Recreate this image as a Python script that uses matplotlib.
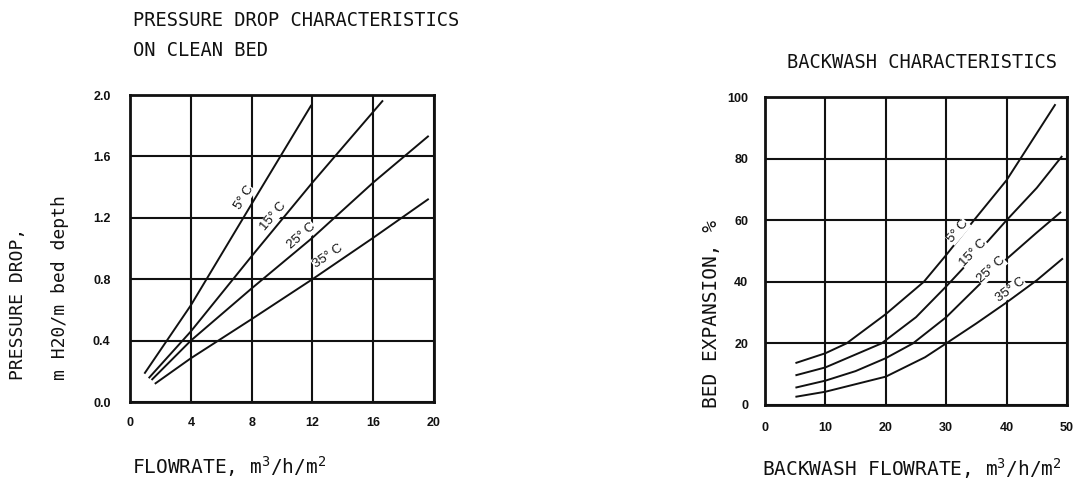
import matplotlib
matplotlib.use("Agg")
import matplotlib.pyplot as plt

# pressure drop on clean bed (flowrate m3/h/m2 -> m H2O / m bed depth)
pd_x_5 = [0.98, 4, 8, 11.9]
pd_y_5 = [0.19, 0.63, 1.29, 1.93]
pd_x_15 = [1.27, 4, 8, 12, 16.6]
pd_y_15 = [0.16, 0.46, 0.95, 1.43, 1.96]
pd_x_25 = [1.46, 4, 8, 12, 16, 19.6]
pd_y_25 = [0.148, 0.40, 0.74, 1.07, 1.43, 1.73]
pd_x_35 = [1.68, 4, 8, 12, 16, 19.6]
pd_y_35 = [0.122, 0.285, 0.54, 0.80, 1.07, 1.32]

# backwash: flowrate -> bed expansion %
bw_x_5 = [5.2, 10, 13.5, 20, 26.3, 30, 34.6, 40, 42.3, 48]
bw_y_5 = [13.7, 16.8, 20, 29.5, 40, 48.7, 60, 73, 80, 97.4]
bw_x_15 = [5.2, 10, 19.3, 25, 30, 35, 40, 45, 49.1]
bw_y_15 = [9.7, 12.2, 20, 28.5, 38.5, 49, 60, 70.5, 80.6]
bw_x_25 = [5.2, 10, 15, 20, 24.5, 30, 35.7, 40, 45, 48.9]
bw_y_25 = [5.7, 7.9, 11, 15.2, 20, 28.5, 39.5, 47.4, 56, 62.5]
bw_x_35 = [5.2, 10, 20, 26.5, 30, 35, 40, 45, 49.2]
bw_y_35 = [2.7, 4.3, 9.2, 15.5, 20, 26.5, 33.3, 40.5, 47.4]

temps = ["5° C", "15° C", "25° C", "35° C"]

pd_xticks = [0, 4, 8, 12, 16, 20]
pd_yticks = [0.0, 0.4, 0.8, 1.2, 1.6, 2.0]
bw_xticks = [0, 10, 20, 30, 40, 50]
bw_yticks = [0, 20, 40, 60, 80, 100]

plt.rcParams["mathtext.fontset"] = "dejavusans"
mono = "DejaVu Sans Mono"
ink = "#111111"
tickfont = {"family": "Liberation Sans", "weight": "bold", "size": 9}

fig = plt.figure(figsize=(10.9, 4.86), dpi=100)


def style(ax, xt, yt, xlab, ylab, xpad, ypad):
    ax.set_xticks(xt)
    ax.set_yticks(yt)
    ax.set_xticklabels(xlab, fontdict=tickfont)
    ax.set_yticklabels(ylab, fontdict=tickfont)
    ax.set_xlim(xt[0], xt[-1])
    ax.set_ylim(yt[0], yt[-1])
    ax.tick_params(length=0, colors=ink)
    ax.tick_params(axis="x", pad=xpad)
    ax.tick_params(axis="y", pad=ypad)
    ax.grid(True, color=ink, lw=1.5)
    for s in ax.spines.values():
        s.set_linewidth(2)
        s.set_color(ink)


# left chart
ax1 = fig.add_axes([0.1193, 0.1728, 0.2789, 0.6317])
style(ax1, pd_xticks, pd_yticks, [str(v) for v in pd_xticks],
      ["%.1f" % v for v in pd_yticks], 11, 14)
for xs, ys in [(pd_x_5, pd_y_5), (pd_x_15, pd_y_15), (pd_x_25, pd_y_25), (pd_x_35, pd_y_35)]:
    ax1.plot(xs, ys, color=ink, lw=1.4, zorder=3)
pd_lab_x = [7.5, 9.4, 11.3, 13.0]
pd_lab_y = [1.33, 1.21, 1.08, 0.95]
pd_rot = [58, 50, 41, 34]
for t, lx, ly, r in zip(temps, pd_lab_x, pd_lab_y, pd_rot):
    ax1.text(lx, ly, t, rotation=r, ha="center", va="center", fontsize=9.5,
             family="Liberation Sans", color=ink, zorder=4,
             bbox=dict(facecolor="white", edgecolor="none", pad=0.2))

# right chart
ax2 = fig.add_axes([0.7018, 0.1667, 0.2771, 0.6337])
style(ax2, bw_xticks, bw_yticks, [str(v) for v in bw_xticks],
      [str(v) for v in bw_yticks], 12, 12)
for xs, ys in [(bw_x_5, bw_y_5), (bw_x_15, bw_y_15), (bw_x_25, bw_y_25), (bw_x_35, bw_y_35)]:
    ax2.plot(xs, ys, color=ink, lw=1.4, zorder=3)
bw_lab_x = [32.0, 34.5, 37.5, 40.6]
bw_lab_y = [56.3, 49.3, 43.8, 37.3]
bw_rot = [50, 46, 42, 36]
for t, lx, ly, r in zip(temps, bw_lab_x, bw_lab_y, bw_rot):
    ax2.text(lx, ly, t, rotation=r, ha="center", va="center", fontsize=9.5,
             family="Liberation Sans", color=ink, zorder=4,
             bbox=dict(facecolor="white", edgecolor="none", pad=0.2))

# titles and axis labels
fig.text(133 / 1090, 1 - 21 / 486, "PRESSURE DROP CHARACTERISTICS", family=mono,
         fontsize=13.5, ha="left", va="center", color=ink)
fig.text(133 / 1090, 1 - 50 / 486, "ON CLEAN BED", family=mono,
         fontsize=13.5, ha="left", va="center", color=ink)
fig.text(787 / 1090, 1 - 62 / 486, "BACKWASH CHARACTERISTICS", family=mono,
         fontsize=13.5, ha="left", va="center", color=ink)

fig.text(18 / 1090, 1 - 380 / 486, "PRESSURE DROP,", family=mono, fontsize=13,
         rotation=90, ha="center", va="bottom", color=ink)
fig.text(60 / 1090, 1 - 380 / 486, "m H20/m bed depth", family=mono, fontsize=13,
         rotation=90, ha="center", va="bottom", color=ink)
fig.text(712 / 1090, 1 - 408 / 486, "BED EXPANSION, %", family=mono, fontsize=14,
         rotation=90, ha="center", va="bottom", color=ink)

fig.text(132 / 1090, 1 - 467 / 486,
         r"FLOWRATE, m$^{\mathtt{3}}$/h/m$^{\mathtt{2}}$", family=mono,
         fontsize=14, ha="left", va="center", color=ink)
fig.text(762 / 1090, 1 - 469 / 486,
         r"BACKWASH FLOWRATE, m$^{\mathtt{3}}$/h/m$^{\mathtt{2}}$", family=mono,
         fontsize=14, ha="left", va="center", color=ink)

fig.savefig("out.png", dpi=100)
